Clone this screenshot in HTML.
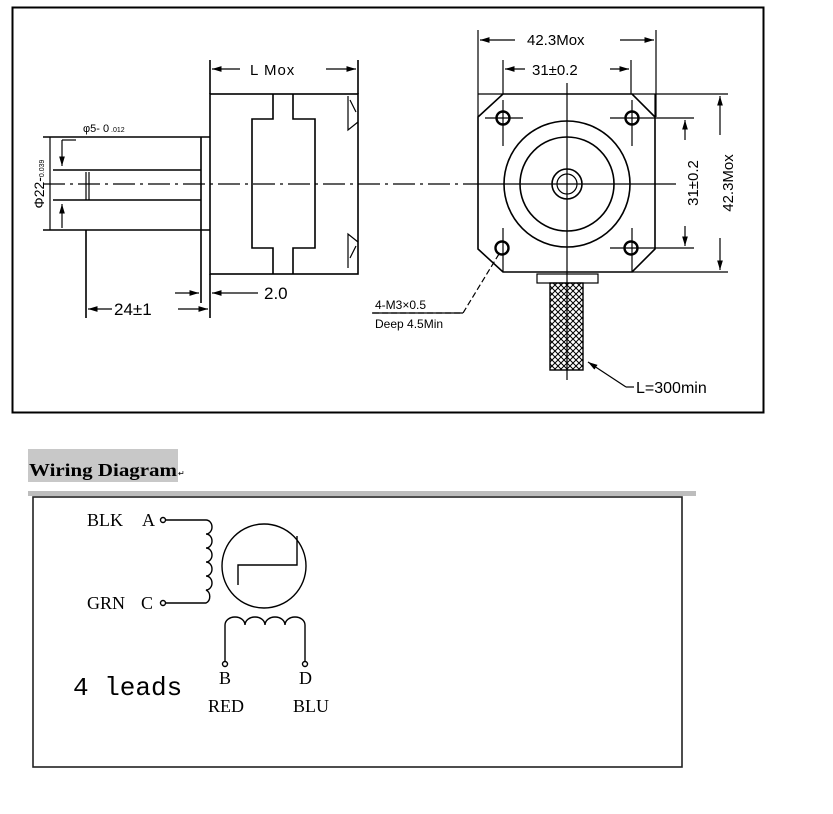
<!DOCTYPE html>
<html><head><meta charset="utf-8"><style>
html,body{margin:0;padding:0;background:#fff;width:833px;height:814px;overflow:hidden}
svg{display:block}
.t{font-family:"Liberation Sans",sans-serif;fill:#000}
.m{font-family:"Liberation Mono",monospace;fill:#000}
.s{font-family:"Liberation Serif",serif;fill:#000}
</style></head><body>
<svg width="833" height="814" viewBox="0 0 833 814" xmlns="http://www.w3.org/2000/svg">
<defs>
<marker id="ar" viewBox="0 0 10 6" refX="10" refY="3" markerWidth="8" markerHeight="5" orient="auto-start-reverse"><path d="M0,0 L10,3 L0,6 z" fill="#000"/></marker>
<pattern id="hatch" width="6" height="6" patternUnits="userSpaceOnUse"><path d="M0,0 L6,6 M6,0 L0,6" stroke="#000" stroke-width="1"/></pattern>
</defs>
<g fill="none" stroke="#000" stroke-width="1.6">
<rect x="12.5" y="7.5" width="751" height="405" stroke-width="2"/>
<rect x="210" y="94" width="148" height="180"/>
<path d="M273,94 V119 H252 V248 H273 V274 M293,94 V119 H315 V248 H293 V274"/>
<path d="M348,96 V130 L358,122 M348,268 V234 L358,242 M350,100 L356,112 M350,258 L356,246" stroke-width="1.2"/>
<line x1="201" y1="137" x2="201" y2="231"/>
<path d="M43,137 H210 M43,230 H210 M53,170 H201 M53,200 H201"/>
<path d="M86,172 V200 M89,172 V200" stroke-width="1.2"/>
<line x1="86" y1="230" x2="86" y2="318"/>
<line x1="210" y1="274" x2="210" y2="318"/>
<line x1="201" y1="231" x2="201" y2="303"/>
<line x1="43" y1="184" x2="478" y2="184" stroke-width="1.2" stroke-dasharray="22,5,3,5"/>
<line x1="50" y1="137" x2="50" y2="230" stroke-width="1.2"/>
<line x1="62" y1="140" x2="62" y2="166" marker-end="url(#ar)" stroke-width="1.2"/>
<line x1="62" y1="228" x2="62" y2="204" marker-end="url(#ar)" stroke-width="1.2"/>
<path d="M62,140 H76" stroke-width="1.2"/>
<path d="M210,60 V94 M358,60 V94"/>
<line x1="240" y1="69" x2="212" y2="69" marker-end="url(#ar)" stroke-width="1.2"/>
<line x1="326" y1="69" x2="356" y2="69" marker-end="url(#ar)" stroke-width="1.2"/>
<line x1="112" y1="309" x2="88" y2="309" marker-end="url(#ar)" stroke-width="1.2"/>
<line x1="178" y1="309" x2="208" y2="309" marker-end="url(#ar)" stroke-width="1.2"/>
<line x1="175" y1="293" x2="199" y2="293" marker-end="url(#ar)" stroke-width="1.2"/>
<line x1="258" y1="293" x2="212" y2="293" marker-end="url(#ar)" stroke-width="1.2"/>
<path d="M503,94 H632 L655,117 V249 L632,272 H503 L478,249 V117 Z"/>
<path d="M478,94 H503 M632,94 H728 M478,94 V117 M655,94 V117" stroke-width="1.2"/>
<path d="M632,272 H728" stroke-width="1.2"/>
<circle cx="567" cy="184" r="63"/>
<circle cx="567" cy="184" r="47"/>
<circle cx="567" cy="184" r="15"/>
<circle cx="567" cy="184" r="10" stroke-width="1.2"/>
<g stroke-width="2.4"><circle cx="503" cy="118" r="6.5"/><circle cx="632" cy="118" r="6.5"/><circle cx="502" cy="248" r="6.5"/><circle cx="631" cy="248" r="6.5"/></g>
<path d="M485,118 H523 M503,100 V146 M610,118 H694 M632,100 V146 M503,228 V272 M610,248 H694 M632,228 V272" stroke-width="1.2"/>
<line x1="567" y1="83" x2="567" y2="380" stroke-width="1.2"/>
<line x1="478" y1="184" x2="676" y2="184" stroke-width="1.2"/>
<path d="M478,30 V94 M656,30 V117 M503,60 V94 M631,60 V94" stroke-width="1.2"/>
<line x1="515" y1="40" x2="480" y2="40" marker-end="url(#ar)" stroke-width="1.2"/>
<line x1="620" y1="40" x2="654" y2="40" marker-end="url(#ar)" stroke-width="1.2"/>
<line x1="525" y1="69" x2="505" y2="69" marker-end="url(#ar)" stroke-width="1.2"/>
<line x1="610" y1="69" x2="629" y2="69" marker-end="url(#ar)" stroke-width="1.2"/>
<line x1="720" y1="135" x2="720" y2="96" marker-end="url(#ar)" stroke-width="1.2"/>
<line x1="720" y1="238" x2="720" y2="270" marker-end="url(#ar)" stroke-width="1.2"/>
<line x1="685" y1="140" x2="685" y2="120" marker-end="url(#ar)" stroke-width="1.2"/>
<line x1="685" y1="226" x2="685" y2="246" marker-end="url(#ar)" stroke-width="1.2"/>
<rect x="537" y="274" width="61" height="9" stroke-width="1.2"/>
<rect x="550" y="283" width="33" height="87" fill="url(#hatch)" stroke-width="1.4"/>
<path d="M499,254 L463,313 H372" stroke-width="1.2" stroke-dasharray="6,3"/>
<line x1="372" y1="313" x2="463" y2="313" stroke-width="1.2"/>
<line x1="626" y1="387" x2="588" y2="362" marker-end="url(#ar)" stroke-width="1.2"/>
<line x1="626" y1="387" x2="634" y2="387" stroke-width="1.2"/>
</g>
<g class="t" font-size="15">
<text x="250" y="75" letter-spacing="1">L  Mox</text>
<text x="83" y="132" font-size="11">φ5-</text>
<text x="103" y="132" font-size="11">0</text><text x="111" y="132" font-size="7">.012</text>
<text x="114" y="315" font-size="17">24±1</text>
<text x="264" y="299" font-size="17">2.0</text>
<text x="527" y="45" font-size="15">42.3Mox</text>
<text x="532" y="75" font-size="15">31±0.2</text>
<text x="375" y="309" font-size="12">4-M3×0.5</text>
<text x="375" y="328" font-size="12">Deep 4.5Min</text>
<text x="636" y="393" font-size="16">L=300min</text>
<text transform="translate(698,183) rotate(-90)" text-anchor="middle" font-size="15">31±0.2</text>
<text transform="translate(733,183) rotate(-90)" text-anchor="middle" font-size="15">42.3Mox</text>
<text transform="translate(44,184) rotate(-90)" text-anchor="middle" font-size="14">Φ22-<tspan font-size="7">0.039</tspan></text>
</g>
<rect x="28" y="449" width="150" height="33" fill="#c8c8c8"/>
<text x="29" y="476" class="s" font-size="18" font-weight="bold" textLength="148" lengthAdjust="spacingAndGlyphs">Wiring Diagram</text>
<text x="178" y="476" class="s" font-size="8" fill="#666">↵</text>
<rect x="28" y="491" width="668" height="5" fill="#bdbdbd"/>
<rect x="33" y="497" width="649" height="270" fill="none" stroke="#222" stroke-width="1.6"/>
<g fill="none" stroke="#000" stroke-width="1.4">
<circle cx="163" cy="520" r="2.5"/><circle cx="163" cy="603" r="2.5"/>
<path d="M166,520 H206 A6,7 0 0 1 206,534 A6,7 0 0 1 206,548 A6,7 0 0 1 206,562 A6,7 0 0 1 206,576 A6,7 0 0 1 206,590 A6,7 0 0 1 206,603 H166"/>
<circle cx="264" cy="566" r="42"/>
<path d="M238,585 V565 H297 V536"/>
<path d="M225,662 V625 A10,8 0 0 1 245,625 A10,8 0 0 1 265,625 A10,8 0 0 1 285,625 A10,8 0 0 1 305,625 V662"/>
<circle cx="225" cy="664" r="2.5"/><circle cx="305" cy="664" r="2.5"/>
</g>
<g class="s" font-size="18">
<text x="87" y="526">BLK</text><text x="142" y="526">A</text>
<text x="87" y="609">GRN</text><text x="141" y="609">C</text>
<text x="219" y="684">B</text><text x="299" y="684">D</text>
<text x="208" y="712">RED</text><text x="293" y="712">BLU</text>
</g>
<text x="73" y="695" class="m" font-size="26">4 leads</text>
</svg>
</body></html>
